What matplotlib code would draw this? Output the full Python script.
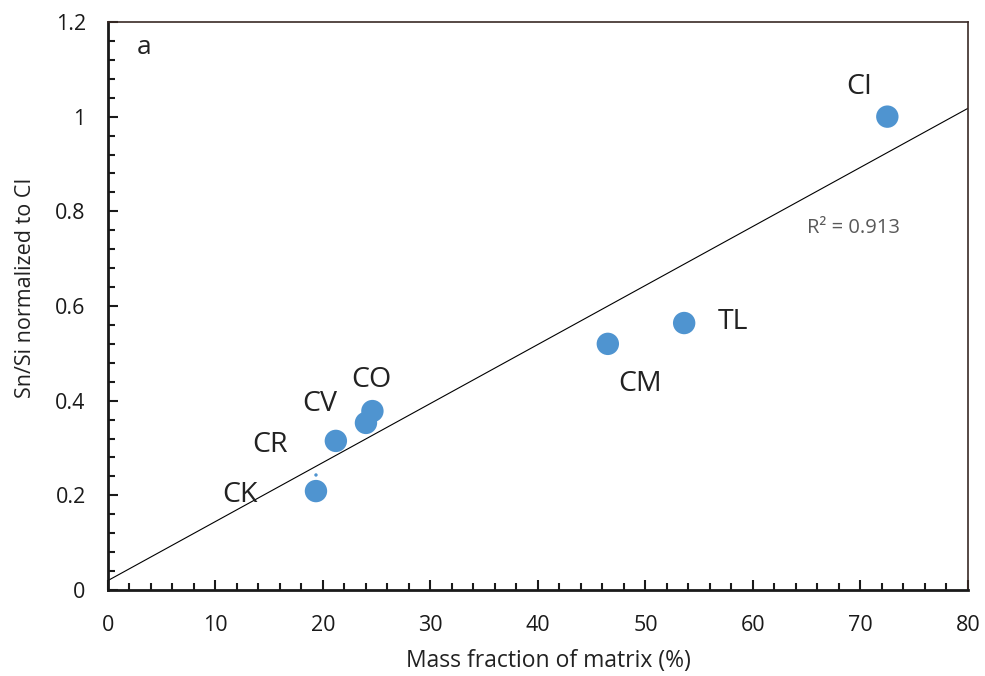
import numpy as np
import matplotlib.pyplot as plt
from matplotlib.ticker import MultipleLocator

plt.rcParams['font.family'] = ['Open Sans', 'DejaVu Sans']

# chondrite groups: matrix mass fraction vs CI-normalised Sn/Si
groups = ['CI', 'TL', 'CM', 'CO', 'CV', 'CR', 'CK']
matrix = [72.5, 53.6, 46.5, 24.6, 24.0, 21.2, 19.35]
sn_si = [1.0, 0.564, 0.520, 0.378, 0.353, 0.315, 0.209]

# linear trend shown on the plot
trend_slope = 0.01247
trend_intercept = 0.020
r_squared = 0.913

# where each group name sits relative to its point (offsets in data units)
label_dx = [-2.65, 4.55, 3.0, -0.05, -4.3, -6.1, -7.05]
label_dy = [0.063, 0.003, -0.084, 0.066, 0.040, -0.008, -0.008]

fig = plt.figure(figsize=(9.85, 6.76), dpi=100)
ax = fig.add_axes([0.1096, 0.1272, 0.8731, 0.8403])

xs = np.array([0, 80])
ax.plot(xs, trend_intercept + trend_slope * xs, color='black', lw=0.8, zorder=2)

ax.scatter(matrix, sn_si, s=260, color='#4f94d0', edgecolors='none', zorder=3)
# small leftover marker just above CK
ax.scatter([19.35], [0.243], s=6, color='#4f94d0', edgecolors='none', zorder=3)

for name, x, y, dx, dy in zip(groups, matrix, sn_si, label_dx, label_dy):
    ax.text(x + dx, y + dy, name, fontsize=20.5, color='#222222',
            ha='center', va='center')

ax.text(65.0, 0.765, f'R\u00b2 = {r_squared}', fontsize=14.5, color='#595959',
        ha='left', va='center')
ax.text(0.033, 0.955, 'a', transform=ax.transAxes, fontsize=19,
        color='#222222', ha='left', va='center')

ax.set_xlim(0, 80)
ax.set_ylim(0, 1.2)
ax.xaxis.set_major_locator(MultipleLocator(10))
ax.xaxis.set_minor_locator(MultipleLocator(2))
ax.yaxis.set_major_locator(MultipleLocator(0.2))
ax.yaxis.set_minor_locator(MultipleLocator(0.04))
ax.set_yticks([0, 0.2, 0.4, 0.6, 0.8, 1.0, 1.2],
              ['0', '0.2', '0.4', '0.6', '0.8', '1', '1.2'])

ax.tick_params(which='both', direction='in', width=1.5, colors='#1a1a1a',
               labelsize=15.5)
ax.tick_params(which='major', length=7)
ax.tick_params(which='minor', length=5)
ax.tick_params(axis='x', pad=18)
ax.tick_params(axis='y', pad=16)

for side in ['left', 'bottom']:
    ax.spines[side].set_linewidth(2.0)
    ax.spines[side].set_color('#1a1a1a')
for side in ['top', 'right']:
    ax.spines[side].set_linewidth(1.2)
    ax.spines[side].set_color('#3a2a26')

ax.set_xlabel('Mass fraction of matrix (%)', fontsize=16.5, color='#222222')
ax.set_ylabel('Sn/Si normalized to CI', fontsize=15.5, color='#222222')
ax.xaxis.set_label_coords(0.512, -0.104)
ax.yaxis.set_label_coords(-0.084, 0.532)

fig.savefig('out.png', dpi=100, facecolor='white')
